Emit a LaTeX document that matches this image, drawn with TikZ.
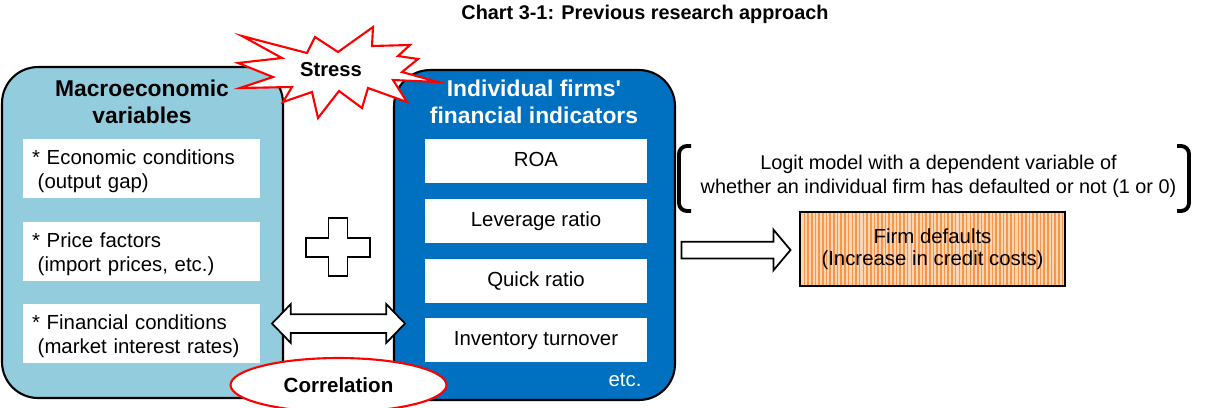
\documentclass[tikz,border=0pt]{standalone}
\usepackage{fontspec}
\setmainfont{Liberation Sans}[Ligatures=TeXOff]
\usetikzlibrary{shapes.geometric,shapes.arrows,patterns.meta}

\definecolor{macroblue}{HTML}{93CDDD}
\definecolor{firmblue}{HTML}{0070C0}
\definecolor{stripeorange}{HTML}{F79646}
\definecolor{peach}{HTML}{FCD5B5}

\begin{document}
\begin{tikzpicture}[x=0.02cm,y=-0.02cm,
    big box/.style={draw=black,line width=1.2pt,rounded corners=0.72cm,minimum width=5.62cm},
    box title/.style={align=center,font=\fontsize{13}{15.4}\selectfont\bfseries},
    macro item/.style={fill=white,align=left,text width=4.38cm,inner xsep=0.18cm,inner ysep=0pt,
        text height=0.5cm,text depth=0.68cm,font=\fontsize{11.6}{13.8}\selectfont},
    firm item/.style={fill=white,minimum width=4.44cm,minimum height=0.88cm,inner sep=0pt,
        text height=0.8em,text depth=0.2em,font=\fontsize{11.6}{14}\selectfont},
    red line/.style={draw=red,line width=1.2pt,fill=white},
    hollow arrow/.style={draw=black,line width=1pt,fill=white,inner xsep=0pt},
    plain text/.style={align=center,font=\fontsize{11.3}{13.6}\selectfont}]
    \clip (0,0) rectangle (1212,407);

    \node[font=\fontsize{11.3}{13}\selectfont\bfseries] (title) at (645,14) {Chart 3-1: Previous research approach};

    % the two groups of explanatory variables
    \node[big box,fill=macroblue,minimum height=6.62cm] (macro) at (142.5,232.5) {};
    \node[box title] (macro title) at (142,101.5) {Macroeconomic\\variables};
    \node[macro item] (econ) at (141.5,168.5) {* Economic conditions\\\hspace*{0.28em}(output gap)};
    \node[macro item] (price) at (141.5,251.5) {* Price factors\\\hspace*{0.28em}(import prices, etc.)};
    \node[macro item] (fin) at (141.5,333.5) {* Financial conditions\\\hspace*{0.28em}(market interest rates)};

    \node[big box,fill=firmblue,minimum height=6.6cm] (firm) at (534.5,235) {};
    \node[box title,text=white] (firm title) at (534,102) {Individual firms'\\financial indicators};
    \node[firm item] (roa) at (536,161) {ROA};
    \node[firm item] (lev) at (536,221) {Leverage ratio};
    \node[firm item] (quick) at (536,281) {Quick ratio};
    \node[firm item] (inv) at (536,340) {Inventory turnover};
    \node[text=white,font=\fontsize{11.6}{14}\selectfont] (etc) at (625,380) {etc.};

    % plus sign between the boxes
    \draw[draw=black,line width=1pt,fill=white]
        (328.5,218) -- (347.5,218) -- (347.5,238) -- (370,238) -- (370,257) -- (347.5,257)
        -- (347.5,276) -- (328.5,276) -- (328.5,257) -- (306,257) -- (306,238) -- (328.5,238) -- cycle;

    \node[hollow arrow,double arrow,minimum height=2.66cm,inner ysep=0.17cm,
        double arrow head extend=0.2cm,double arrow tip angle=92] (link) at (338.5,323.5) {};

    % stress burst over the top of both boxes
    \draw[red line] (242,36) -- (307,53) -- (315,37) -- (338,52) -- (373,27) -- (372,46)
        -- (410,45) -- (398,56) -- (418,59) -- (402,72) -- (438,82) -- (393,80) -- (407,102)
        -- (368,88) -- (362,108) -- (339,91) -- (318,118) -- (312,92) -- (283,102) -- (292,87)
        -- (240,88) -- (273,77) -- (238,63) -- (282,58) -- cycle;
    \node[font=\fontsize{11.5}{13}\selectfont\bfseries] (stress) at (331,70) {Stress};

    \node[red line,ellipse,minimum width=4.32cm,minimum height=1.08cm,inner sep=0pt,
        font=\fontsize{11.7}{13}\selectfont\bfseries] (corr) at (338.5,385) {Correlation};

    % logit model and outcome
    \node[plain text] (logit) at (938.5,176) {Logit model with a dependent variable of\\whether an individual firm has defaulted or not (1 or 0)};
    \draw[line width=2.2pt,rounded corners=0.16cm] (691,146) -- (679,146) -- (679,211) -- (691,211);
    \draw[line width=2.2pt,rounded corners=0.16cm] (1177,146) -- (1189,146) -- (1189,211) -- (1177,211);

    \node[hollow arrow,single arrow,minimum height=2.18cm,inner ysep=0.15cm,
        single arrow head extend=0.24cm,single arrow tip angle=100] (to default) at (732.5,250) {};

    \node[plain text,draw=black,line width=1.2pt,minimum width=5.3cm,minimum height=1.48cm,
        preaction={fill=peach},pattern={Lines[angle=90,distance=2.1pt,line width=0.9pt]},
        pattern color=stripeorange,font=\fontsize{11.6}{12.2}\selectfont] (default) at (932.5,249)
        {Firm defaults\\(Increase in credit costs)};
\end{tikzpicture}
\end{document}
